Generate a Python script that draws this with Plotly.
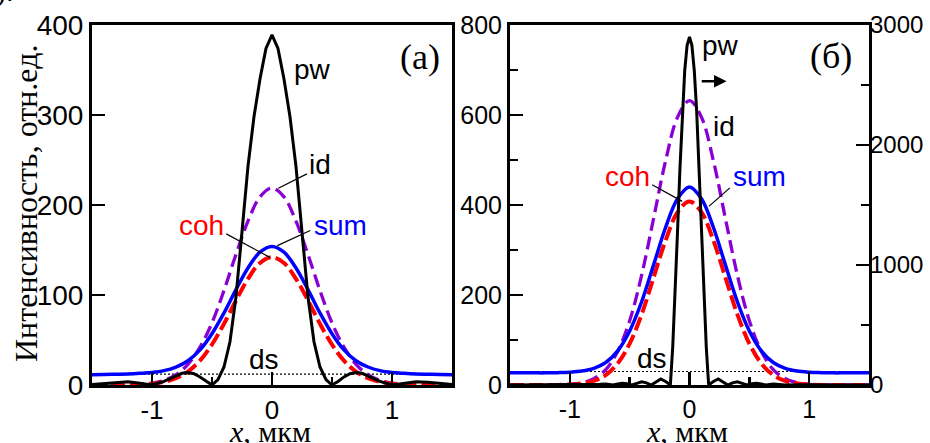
import plotly.graph_objects as go

# ---------------- data: panel (a) ----------------
x_grid = [-1.5, -1.4, -1.3, -1.2, -1.1, -1.0, -0.9, -0.8, -0.7, -0.6, -0.5, -0.4, -0.3, -0.2, -0.1,
          0.0, 0.1, 0.2, 0.3, 0.4, 0.5, 0.6, 0.7, 0.8, 0.9, 1.0, 1.1, 1.2, 1.3, 1.4, 1.5]

id_a = [0, 0, 0.1, 0.3, 0.9, 2.2, 5.3, 11.6, 23, 42, 69, 105, 145, 182, 209,
        219, 209, 182, 145, 105, 69, 42, 23, 11.6, 5.3, 2.2, 0.9, 0.3, 0.1, 0, 0]
coh_a = [0, 0, 0.1, 0.2, 0.6, 1.4, 3.5, 7.5, 15, 27, 45, 68, 94, 118, 135.6,
         142, 135.6, 118, 94, 68, 45, 27, 15, 7.5, 3.5, 1.4, 0.6, 0.2, 0.1, 0, 0]
sum_a = [11.5, 11.7, 12, 12.3, 13, 14, 16, 20, 27, 39, 57, 80, 106, 130, 147.6,
         154, 147.6, 130, 106, 80, 57, 39, 27, 20, 16, 14, 13, 12.3, 12, 11.7, 11.5]
ds_x = [-1.5, 1.5]
ds_a = [12, 12]

pw_a_x = [-1.5, -1.4, -1.3, -1.2, -1.1, -1.0, -0.9, -0.8, -0.75, -0.7, -0.65, -0.6, -0.55, -0.5,
          -0.45, -0.4, -0.35, -0.3, -0.25, -0.2, -0.15, -0.1, -0.05, 0.0,
          0.05, 0.1, 0.15, 0.2, 0.25, 0.3, 0.35, 0.4, 0.45,
          0.5, 0.55, 0.6, 0.65, 0.7, 0.75, 0.8, 0.9, 1.0, 1.1, 1.2, 1.3, 1.4, 1.5]
pw_a = [0.5, 1.5, 3, 3.5, 2, 0, 4, 10, 13, 14, 12.5, 9, 4, 0,
        6, 20, 48, 98, 170, 243, 298, 340, 374, 389,
        374, 340, 298, 243, 170, 98, 48, 20, 6,
        0, 4, 9, 12.5, 14, 13, 10, 4, 0, 2, 3.5, 3, 1.5, 0.5]

# ---------------- data: panel (б) ----------------
id_b = [0, 0, 0, 0.1, 0.5, 1.6, 5, 14, 34, 75, 143, 244, 370, 498, 595,
        632, 595, 498, 370, 244, 143, 75, 34, 14, 5, 1.6, 0.5, 0.1, 0, 0, 0]
coh_b = [0, 0, 0, 0.1, 0.3, 1.1, 3.3, 9, 22, 48, 92, 157, 239, 321, 384,
         408, 384, 321, 239, 157, 92, 48, 22, 9, 3.3, 1.1, 0.3, 0.1, 0, 0, 0]
sum_b = [27, 27, 27, 27, 27.5, 28.5, 31, 37, 50, 76, 120, 185, 267, 350, 414,
         440, 414, 350, 267, 185, 120, 76, 50, 37, 31, 28.5, 27.5, 27, 27, 27, 27]
ds_b = [30, 30]

pw_b_x = [-1.5, -1.2, -1.0, -0.9, -0.8, -0.75, -0.7, -0.64, -0.6, -0.56, -0.52, -0.48, -0.44, -0.4,
          -0.36, -0.32, -0.28, -0.24, -0.2, -0.16, -0.14, -0.12, -0.1, -0.08, -0.06, -0.04, -0.02,
          0.0, 0.02, 0.04, 0.06, 0.08, 0.1, 0.12, 0.14, 0.16, 0.2, 0.24, 0.28, 0.32, 0.36,
          0.4, 0.44, 0.48, 0.52, 0.56, 0.6, 0.64, 0.7, 0.75, 0.8, 0.9, 1.0, 1.2, 1.5]
pw_b = [0, 0, 0, 3, 0, 6, 8, 0, 8, 14, 10, 0, 14, 26,
        18, 0, 25, 50, 30, 0, 320, 760, 1280, 1800, 2280, 2620, 2830,
        2900, 2830, 2620, 2280, 1800, 1280, 760, 320, 0, 30, 50, 25, 0, 18,
        26, 14, 0, 10, 14, 8, 0, 8, 6, 0, 3, 0, 0, 0]

tick_x = [-1, 0, 1]
tick_x_text = ["-1", "0", "1"]
tick_y_a = [0, 100, 200, 300, 400]
tick_y_b = [0, 200, 400, 600, 800]
tick_y_b2 = [0, 1000, 2000, 3000]

# ---------------- styles ----------------
BLUE = "#0000FF"
RED = "#FF0000"
PURPLE = "#8A00D4"
BLACK = "#000000"
SANS = "Liberation Sans, Arial, sans-serif"
SERIF = "Liberation Serif, Times New Roman, serif"

fig = go.Figure()


def add_panel(xa, ya, id_v, coh_v, sum_v, ds_v, pw_x, pw_v, pw_axis):
    fig.add_trace(go.Scatter(x=ds_x, y=ds_v, xaxis=xa, yaxis=ya, mode="lines",
                             line=dict(color=BLACK, width=1.2, dash="2px,2px")))
    fig.add_trace(go.Scatter(x=x_grid, y=id_v, xaxis=xa, yaxis=ya, mode="lines",
                             line=dict(color=PURPLE, width=3.3, dash="13px,6px", shape="spline")))
    fig.add_trace(go.Scatter(x=x_grid, y=coh_v, xaxis=xa, yaxis=ya, mode="lines",
                             line=dict(color=RED, width=4, dash="14px,5px", shape="spline")))
    fig.add_trace(go.Scatter(x=x_grid, y=sum_v, xaxis=xa, yaxis=ya, mode="lines",
                             line=dict(color=BLUE, width=3.5, shape="spline")))
    fig.add_trace(go.Scatter(x=pw_x, y=pw_v, xaxis=xa, yaxis=pw_axis, mode="lines",
                             line=dict(color=BLACK, width=3)))


add_panel("x", "y", id_a, coh_a, sum_a, ds_a, pw_a_x, pw_a, "y")
add_panel("x2", "y2", id_b, coh_b, sum_b, ds_b, pw_b_x, pw_b, "y3")

YDOM = [0.1309, 0.9436]
axis_common = dict(showline=True, linewidth=3, linecolor=BLACK, mirror=True,
                   showgrid=False, zeroline=False, ticks="inside", ticklen=13,
                   tickwidth=2.5, tickcolor=BLACK, automargin=False)

fig.update_layout(
    template="none",
    width=930, height=443, autosize=False,
    margin=dict(l=0, r=0, t=0, b=0, pad=0),
    paper_bgcolor="white", plot_bgcolor="white",
    showlegend=False,
    xaxis=dict(domain=[0.0989, 0.486], range=[-1.5, 1.5], tickvals=tick_x, ticktext=tick_x_text,
               tickfont=dict(family=SANS, size=26, color=BLACK),
               minor=dict(tickvals=[-0.5, 0.5], ticks="inside", ticklen=8, tickwidth=2.5,
                          tickcolor=BLACK),
               anchor="y", **axis_common),
    yaxis=dict(domain=YDOM, range=[0, 400], tickvals=tick_y_a,
               tickfont=dict(family=SANS, size=28, color=BLACK),
               anchor="x", **axis_common),
    xaxis2=dict(domain=[0.5484, 0.9344], range=[-1.5, 1.5], tickvals=tick_x, ticktext=tick_x_text,
                tickfont=dict(family=SANS, size=25, color=BLACK),
                minor=dict(tickvals=[-0.5, 0.5], ticks="inside", ticklen=8, tickwidth=2.5,
                           tickcolor=BLACK),
                anchor="y2", **axis_common),
    yaxis2=dict(domain=YDOM, range=[0, 800], tickvals=tick_y_b,
                tickfont=dict(family=SANS, size=25, color=BLACK),
                minor=dict(dtick=100, tick0=0, ticks="inside", ticklen=8, tickwidth=2.5,
                           tickcolor=BLACK),
                anchor="x2", **axis_common),
    yaxis3=dict(domain=YDOM, range=[0, 3000], tickvals=tick_y_b2, overlaying="y2",
                side="right", anchor="x2", automargin=False,
                tickfont=dict(family=SANS, size=24, color=BLACK),
                minor=dict(dtick=500, tick0=0, ticks="inside", ticklen=8, tickwidth=2.5,
                           tickcolor=BLACK),
                showline=False, showgrid=False, zeroline=False, ticks="inside",
                ticklen=13, tickwidth=2.5, tickcolor=BLACK),
)

LBL = 28


def lab(text, x, y, xr, yr, color=BLACK, xanchor="left", size=LBL, family=SANS):
    fig.add_annotation(text=text, x=x, y=y, xref=xr, yref=yr, showarrow=False,
                       xanchor=xanchor, yanchor="middle",
                       font=dict(family=family, size=size, color=color))


def leader(x0, y0, x1, y1, xr, yr):
    fig.add_shape(type="line", x0=x0, y0=y0, x1=x1, y1=y1, xref=xr, yref=yr,
                  line=dict(color=BLACK, width=1.2))


# panel (a) labels
lab("pw", 0.168, 351, "x", "y")
lab("id", 0.294, 245, "x", "y")
lab("sum", 0.336, 177, "x", "y", color=BLUE)
lab("coh", -0.387, 177, "x", "y", color=RED, xanchor="right")
lab("ds", -0.21, 28, "x", "y")
lab("(a)", 1.235, 364, "x", "y", xanchor="center", size=36, family=SERIF)
leader(0.291, 234.6, 0.053, 218.6, "x", "y")
leader(0.319, 171.6, 0.045, 154.9, "x", "y")
leader(-0.381, 167.9, -0.017, 141.8, "x", "y")

# panel (б) labels
lab("pw", 0.084, 755, "x2", "y2")
lab("id", 0.176, 575, "x2", "y2")
lab("sum", 0.343, 463, "x2", "y2", color=BLUE)
lab("coh", -0.31, 463, "x2", "y2", color=RED, xanchor="right")
lab("ds", -0.452, 58, "x2", "y2")
lab("(б)", 1.18, 730, "x2", "y2", xanchor="center", size=36, family=SERIF)
leader(-0.312, 445, -0.061, 408, "x2", "y2")
leader(0.337, 438, 0.162, 397, "x2", "y2")
fig.add_annotation(x=0.31, y=675, ax=0.09, ay=675, xref="x2", yref="y2", axref="x2", ayref="y2",
                   text="", showarrow=True, arrowhead=2, arrowsize=1, arrowwidth=2.5,
                   arrowcolor=BLACK)

# axis titles
fig.add_annotation(text="Интенсивность, отн.ед.", x=26 / 930, y=(443 - 204) / 443,
                   xref="paper", yref="paper", showarrow=False, textangle=-90,
                   xanchor="center", yanchor="middle",
                   font=dict(family=SERIF, size=32, color=BLACK))
for xc in (270, 687):
    fig.add_annotation(text="<i>x</i>, мкм", x=xc / 930, y=(443 - 413) / 443,
                       xref="paper", yref="paper", showarrow=False,
                       xanchor="center", yanchor="top",
                       font=dict(family=SERIF, size=30, color=BLACK))
# remnant of caption at top-left
fig.add_annotation(text=").", x=16 / 930, y=(443 - 10) / 443, xref="paper", yref="paper",
                   showarrow=False, xanchor="right", yanchor="bottom",
                   font=dict(family=SERIF, size=30, color=BLACK))

fig.write_html("out.html",
               config={"displayModeBar": False, "staticPlot": True},
               post_script="document.body.style.margin='0px';document.body.style.overflow='hidden';")
